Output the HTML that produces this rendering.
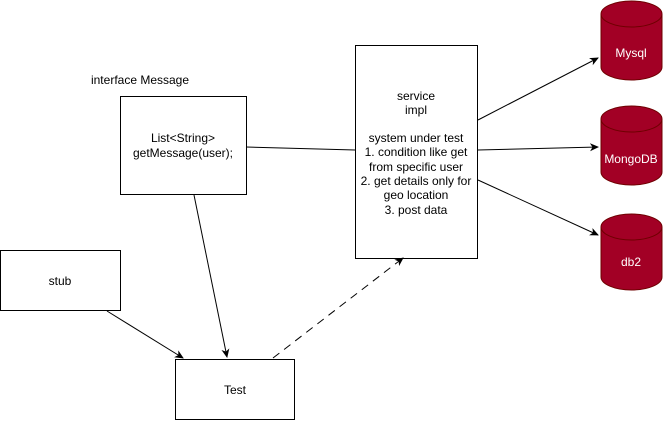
<!DOCTYPE html>
<html><head><style>
body{margin:0;background:#fff;}
svg text{font-family:"Liberation Sans",sans-serif;font-size:12px;}
</style></head><body>
<svg width="663" height="420" xmlns="http://www.w3.org/2000/svg">
<defs><marker id="a" markerWidth="10" markerHeight="10" refX="8" refY="4" orient="auto" markerUnits="userSpaceOnUse"><path d="M0,0 L9,4 L0,8 L2.5,4 Z" fill="#000"/></marker></defs>
<rect x="120.5" y="96.5" width="126" height="98" fill="#fff" stroke="#000"/>
<rect x="355.5" y="45.5" width="122" height="213" fill="#fff" stroke="#000"/>
<rect x="0.5" y="250.5" width="120" height="60" fill="#fff" stroke="#000"/>
<rect x="175.5" y="359.5" width="119" height="60" fill="#fff" stroke="#000"/>
<g fill="#a20025" stroke="#6f0000">
<path d="M601,14 a30.5,13 0 0 1 61,0 v53 a30.5,13 0 0 1 -61,0 Z"/><path d="M601,14 a30.5,13 0 0 0 61,0" fill="none"/>
<path d="M601,119 a30.5,13 0 0 1 61,0 v53 a30.5,13 0 0 1 -61,0 Z"/><path d="M601,119 a30.5,13 0 0 0 61,0" fill="none"/>
<path d="M601,227 a30.5,13 0 0 1 61,0 v50 a30.5,13 0 0 1 -61,0 Z"/><path d="M601,227 a30.5,13 0 0 0 61,0" fill="none"/>
</g>
<g stroke="#000" fill="none">
<line x1="246" y1="147" x2="355" y2="150"/>
<line x1="478" y1="120" x2="598" y2="58" marker-end="url(#a)"/>
<line x1="478" y1="150" x2="598" y2="147" marker-end="url(#a)"/>
<line x1="478" y1="180" x2="598" y2="235" marker-end="url(#a)"/>
<line x1="194" y1="195" x2="227" y2="357" marker-end="url(#a)"/>
<line x1="107" y1="311" x2="183" y2="358" marker-end="url(#a)"/>
<line x1="273" y1="358" x2="403" y2="258" stroke-dasharray="8,6" marker-end="url(#a)"/>
</g>
<g text-anchor="middle" fill="#000">
<text x="140" y="84">interface Message</text>
<text x="183" y="142">List&lt;String&gt;</text>
<text x="183" y="157">getMessage(user);</text>
<text x="60" y="285">stub</text>
<text x="235" y="394">Test</text>
<text x="416" y="100">service</text>
<text x="416" y="114">impl</text>
<text x="416" y="142">system under test</text>
<text x="416" y="156">1. condition like get</text>
<text x="416" y="171">from specific user</text>
<text x="416" y="185">2. get details only for</text>
<text x="416" y="199">geo location</text>
<text x="416" y="214">3. post data</text>
</g>
<g text-anchor="middle" fill="#fff">
<text x="631" y="57">Mysql</text>
<text x="631" y="163">MongoDB</text>
<text x="631" y="266">db2</text>
</g>
</svg>
</body></html>
